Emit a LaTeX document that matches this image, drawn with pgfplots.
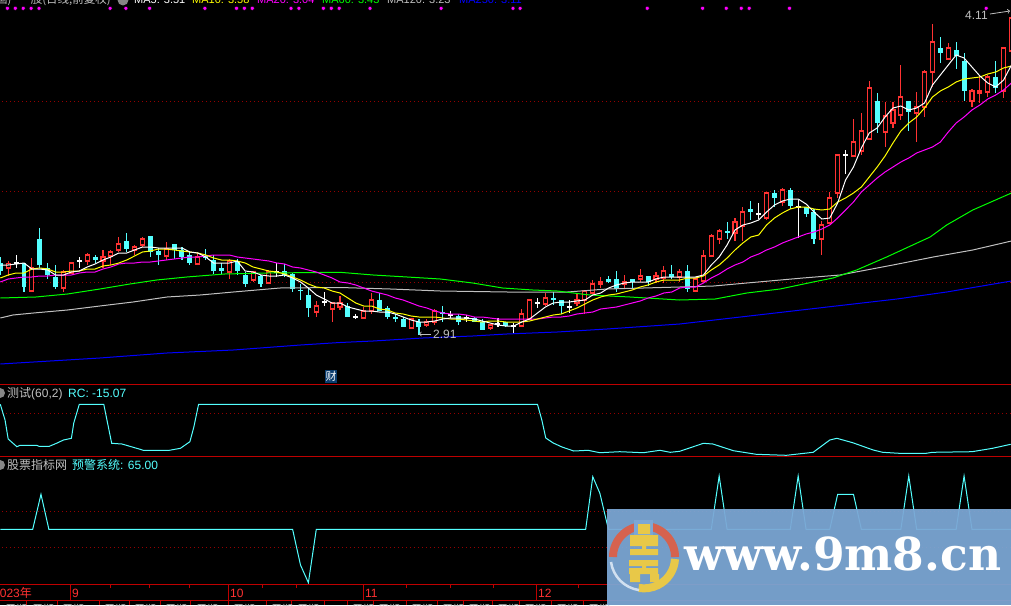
\documentclass[border=0pt]{standalone}
\usepackage{pgfplots}
\usepackage{pgfplotstable}
\usepackage{fontspec}
\pgfplotsset{compat=1.18}
\setmainfont{Liberation Sans}
\newfontfamily\cjk{Noto Sans CJK SC}
\newfontfamily\wm{DejaVu Serif}
\definecolor{kred}{RGB}{255,50,50}
\definecolor{kcyan}{RGB}{84,255,255}
\definecolor{sep}{RGB}{190,0,0}
\definecolor{grid}{RGB}{150,0,0}
\definecolor{tgray}{RGB}{192,192,192}
\definecolor{wmblue}{RGB}{124,167,213}
\definecolor{wmred}{RGB}{214,98,78}
\definecolor{wmyel}{RGB}{232,200,72}
\definecolor{badge}{RGB}{10,60,110}
\definecolor{mag}{RGB}{255,0,255}
\definecolor{yel}{RGB}{255,255,0}
\definecolor{grn}{RGB}{0,255,0}
\definecolor{blu}{RGB}{0,0,255}
% candle helpers: index, high, body top, body bottom, low
\newcommand\R[5]{%
 \pgfmathsetmacro\xa{#1-0.253}\pgfmathsetmacro\xb{#1+0.253}%
 \addplot[kred,line width=1.1pt] coordinates {(#1,#2)(#1,#3)};
 \addplot[kred,line width=1.1pt] coordinates {(#1,#4)(#1,#5)};
 \addplot[draw=kred,fill=black,line width=1.1pt] coordinates {(\xa,#3)(\xb,#3)(\xb,#4)(\xa,#4)} -- cycle;
}
\newcommand\C[5]{%
 \pgfmathsetmacro\xa{#1-0.316}\pgfmathsetmacro\xb{#1+0.316}%
 \addplot[kcyan,line width=1.1pt] coordinates {(#1,#2)(#1,#5)};
 \addplot[draw=none,fill=kcyan] coordinates {(\xa,#3)(\xb,#3)(\xb,#4)(\xa,#4)} -- cycle;
}
\newcommand\W[4]{%
 \pgfmathsetmacro\xa{#1-0.316}\pgfmathsetmacro\xb{#1+0.316}%
 \addplot[white,line width=1.1pt] coordinates {(#1,#2)(#1,#4)};
 \addplot[white,line width=1.1pt] coordinates {(\xa,#3)(\xb,#3)};
}
\pgfplotstableread{
i ma5 ma10 ma20
0 265 278 282
1 265 275 279
2 264 273 278
3 263 273 277
4 269 269 277
5 269 268 276
6 270 269 276
7 275 272 275
8 275 272 275
9 272 271 275
10 271 271 273
11 267 269 272
12 264 269 272
13 260 266 269
14 257 265 267
15 253 263 264
16 253 260 263
17 250 256 263
18 247 252 262
19 247 251 262
20 248 249 261
21 248 249 260
22 248 250 259
23 248 251 258
24 252 252 257
25 253 253 257
26 257 255 256
27 263 258 255
28 263 260 255
29 263 260 255
30 261 261 257
31 271 263 258
32 272 267 259
33 275 269 260
34 276 271 261
35 276 272 263
36 275 274 264
37 278 277 267
38 282 280 268
39 288 284 270
40 295 287 272
41 299 288 275
42 303 291 278
43 303 293 282
44 307 298 283
45 309 303 285
46 311 306 288
47 311 306 291
48 312 309 293
49 312 310 295
50 314 313 298
51 317 314 300
52 320 316 303
53 322 317 306
54 322 317 308
55 321 317 311
56 319 318 313
57 318 319 314
58 318 319 314
59 318 320 315
60 319 321 317
61 321 322 317
62 323 321 318
63 325 321 319
64 326 322 319
65 326 322 319
66 322 322 319
67 319 321 319
68 313 319 319
69 307 317 318
70 303 315 317
71 302 314 317
72 302 311 316
73 301 308 314
74 300 304 313
75 295 300 312
76 293 297 309
77 288 295 308
78 285 294 307
79 283 292 305
80 282 290 303
81 282 287 301
82 282 285 298
83 279 282 296
84 277 280 293
85 277 280 292
86 277 280 288
87 277 278 287
88 277 278 287
89 275 276 283
90 265 270 278
91 257 265 274
92 245 258 269
93 230 250 265
94 225 243 262
95 223 237 257
96 220 235 254
97 212 225 250
98 205 218 247
99 201 213 243
100 199 209 240
101 199 207 237
102 204 207 234
103 212 209 232
104 219 210 229
105 218 209 225
106 203 202 218
107 180 198 210
108 167 193 202
109 148 187 192
110 133 177 185
111 128 167 178
112 117 156 172
113 108 143 167
114 106 131 162
115 110 123 158
116 108 117 153
117 103 108 150
118 85 97 147
119 75 91 142
120 65 87 132
121 55 82 123
122 58 79 117
123 67 78 110
124 76 77 105
125 83 74 99
126 87 72 95
127 80 68 90
128 65 66 83
}\malines
\begin{document}
\begin{tikzpicture}[x=1pt,y=1pt]
\path[use as bounding box,clip] (0,0) rectangle (1011,605);
\fill[black] (0,0) rectangle (1011,605);
\begin{scope}[shift={(0,605)},y=-1pt]
 \foreach \yy in {101,191,282,413.5,511,547}
  \draw[grid,line width=.8pt,dash pattern=on 1pt off 3pt] (2,\yy)--(1011,\yy);
\end{scope}
\begin{axis}[at={(0,0)},anchor=south west,scale only axis,width=1011pt,height=605pt,
 xmin=-0.038,xmax=127.94,ymin=0,ymax=605,y dir=reverse,axis lines=none,no markers,clip=true]
\R{1}{261}{263.3}{268}{276}
\C{0}{257}{263}{271}{275}
\W{2}{255}{263}{268}
\C{3}{263}{263}{287}{292}
\R{4}{258}{268}{291}{291}
\C{5}{228}{239}{265}{268}
\C{6}{263}{268}{275}{279}
\C{7}{265}{277}{287}{289}
\R{8}{270}{272}{288}{292}
\R{9}{263}{263}{273}{273}
\W{10}{257}{261}{268}
\R{11}{253}{255}{261}{265}
\C{12}{255}{257}{260}{263}
\R{13}{250}{257}{261}{268}
\R{14}{250}{252}{256}{265}
\R{15}{237}{244}{250}{252}
\C{16}{233}{241}{249}{252}
\R{17}{245}{247}{250}{255}
\R{18}{237}{239}{245}{247}
\C{19}{236}{236}{252}{257}
\C{20}{248}{251}{255}{265}
\R{21}{242}{249}{256}{260}
\C{22}{244}{244}{250}{259}
\C{23}{247}{250}{257}{260}
\C{24}{252}{255}{263}{265}
\R{25}{253}{257}{264}{265}
\C{26}{249}{256}{258}{260}
\C{27}{255}{260}{271}{274}
\C{28}{263}{268}{271}{274}
\R{29}{259}{261}{272}{279}
\C{30}{259}{261}{271}{275}
\C{31}{272}{275}{284}{287}
\R{32}{271}{272}{280}{282}
\C{33}{275}{276}{284}{287}
\R{34}{270}{272}{283}{283}
\W{35}{263}{272}{277}
\C{36}{264}{271}{275}{277}
\C{37}{273}{274}{289}{292}
\C{38}{284}{290}{291}{300}
\C{39}{288}{295}{308}{317}
\R{40}{301}{306}{312}{317}
\W{41}{292}{302}{306}
\R{42}{302}{303}{309}{322}
\R{43}{296}{303}{307}{310}
\C{44}{303}{306}{317}{317}
\W{45}{314}{317}{319}
\R{46}{307}{311}{318}{319}
\R{47}{293}{300}{311}{314}
\C{48}{293}{300}{311}{311}
\C{49}{306}{308}{317}{319}
\C{50}{314}{317}{319}{322}
\C{51}{317}{319}{327}{327}
\R{52}{318}{319}{328}{328}
\C{53}{319}{322}{327}{335}
\R{54}{319}{322}{325}{327}
\R{55}{309}{311}{322}{325}
\C{56}{306}{312}{314}{322}
\W{57}{311}{315}{318}
\C{58}{314}{316}{322}{325}
\W{59}{315}{318}{322}
\C{60}{317}{318}{322}{322}
\C{61}{319}{322}{330}{330}
\R{62}{324}{325}{328}{330}
\W{63}{318}{324}{327}
\C{64}{322}{322}{326}{327}
\W{65}{323}{326}{333}
\R{66}{309}{314}{326}{326}
\R{67}{299}{300}{319}{319}
\W{68}{298}{303}{308}
\R{69}{293}{298}{304}{306}
\C{70}{292}{298}{300}{305}
\C{71}{300}{300}{306}{314}
\W{72}{300}{307}{313}
\R{73}{293}{300}{303}{306}
\R{74}{290}{291}{300}{314}
\R{75}{280}{284}{293}{294}
\R{76}{277}{282}{284}{288}
\C{77}{276}{279}{282}{283}
\C{78}{271}{279}{289}{292}
\R{79}{275}{282}{284}{289}
\C{80}{279}{279}{282}{289}
\R{81}{269}{276}{279}{282}
\C{82}{276}{276}{282}{286}
\R{83}{272}{276}{279}{283}
\R{84}{266}{271}{278}{283}
\C{85}{265}{274}{277}{279}
\R{86}{269}{272}{277}{282}
\C{87}{265}{271}{289}{292}
\R{88}{278}{279}{291}{292}
\R{89}{250}{256}{281}{282}
\R{90}{234}{236}{256}{257}
\R{91}{229}{231}{239}{244}
\C{92}{222}{231}{233}{239}
\R{93}{218}{222}{233}{241}
\R{94}{207}{212}{226}{241}
\C{95}{201}{209}{212}{220}
\W{96}{203}{214}{219}
\R{97}{192}{193}{218}{220}
\C{98}{190}{193}{198}{207}
\R{99}{188}{190}{202}{206}
\C{100}{188}{190}{206}{209}
\W{101}{200}{207}{238}
\C{102}{207}{207}{214}{217}
\C{103}{209}{212}{239}{244}
\R{104}{221}{225}{239}{255}
\R{105}{192}{198}{223}{224}
\R{106}{154}{155}{193}{198}
\W{107}{150}{155}{174}
\R{108}{119}{142}{156}{157}
\R{109}{113}{131}{151}{155}
\R{110}{81}{88}{139}{140}
\C{111}{93}{101}{123}{133}
\R{112}{102}{116}{132}{147}
\R{113}{102}{110}{123}{128}
\R{114}{65}{97}{115}{120}
\C{115}{101}{101}{112}{131}
\R{116}{92}{107}{113}{142}
\R{117}{70}{72}{107}{117}
\R{118}{24}{42}{72}{87}
\C{119}{37}{48}{53}{63}
\R{120}{43}{48}{59}{60}
\C{121}{42}{50}{56}{69}
\C{122}{53}{61}{91}{101}
\R{123}{89}{91}{101}{107}
\R{124}{75}{91}{93}{103}
\R{125}{75}{77}{92}{97}
\C{126}{61}{77}{88}{93}
\R{127}{48}{48}{91}{98}
\R{128}{12}{18}{51}{52}
% long moving averages
\addplot[color=blu,line width=1pt] coordinates {(0,364)(4.2,362)(12.6,358)(21.1,353)(29.5,350)(38,345)(43,342.5)(47.2,341)(53.5,338)(59.8,336)(64.1,334)(70.5,332)(76.8,329)(86,324)(113.5,299)(119.8,292)(128,281)};
\addplot[color=tgray,line width=1pt] coordinates {(0,318)(1.6,315)(4.2,313)(8.5,310)(12.6,306)(16.8,302)(21.1,297)(25.3,295)(29.5,292)(35.4,288)(43,287.5)(49.4,289)(55.7,291)(64.2,292)(71.8,292)(76.8,289)(86,287)(90.3,286)(94.5,283)(101.6,278)(106.3,275)(113,265)(118.1,257)(123.1,250)(128,241)};
\addplot[color=grn,line width=1pt] coordinates {(0,298)(4.5,297)(8.5,294)(12.6,289)(16.4,284)(19.8,280)(23.6,277)(28.4,274)(33.8,273)(43,272.3)(47.2,275)(51.5,277)(55.7,279)(59.8,283)(63.6,288)(67.4,290)(70.5,291)(74.6,295)(79.7,297)(86,300)(90.5,299)(94.5,293)(98.7,289)(102.9,282)(105.4,278)(108.4,270)(112.2,257)(115.5,245)(117.7,237)(119.8,225)(123.1,210)(128,193)};
\addplot[color=mag,line width=1pt] table[x=i,y=ma20]{\malines};
\addplot[color=yel,line width=1pt] table[x=i,y=ma10]{\malines};
\addplot[color=white,line width=1pt] table[x=i,y=ma5]{\malines};
% RC panel
\addplot[color=kcyan,line width=1pt] coordinates {(0,404.3)(0.6,420)(1,439)(2.1,446.7)(2.5,445.3)(4.6,445.3)(4.9,446.3)(6.2,446.3)(7.2,443)(8,440)(9,438.3)(9.3,423)(10,404.3)(13.1,404.3)(13.5,420)(14.1,443.3)(15.4,444)(17.7,449.3)(18.1,450.3)(21.4,450.3)(22.8,448.3)(24,441.7)(24.5,427)(25.1,404.3)(68,404.3)(68.55,420)(69.05,438)(70,443)(71.1,447)(72.6,451)(74.4,450.3)(75.9,452.7)(78.4,451.7)(81.4,452.7)(83.5,450.3)(84.8,452.3)(86,451.3)(89,443.3)(90.2,444)(92.8,450.7)(95.7,454.3)(99.5,455.3)(102.9,452.3)(105,440)(105.9,438.3)(107.9,442.7)(110.5,450)(111.7,452.3)(113.8,453.3)(117.2,453.3)(118,452.3)(123,451.7)(125.6,448.3)(127.9,444.3)};
% warning panel
\addplot[color=kcyan,line width=1pt] coordinates {(0,529.3)(4.1,529.3)(5.15,494.3)(6.15,529.3)(37,529.3)(38,565)(39,582.7)(40,529.3)(74.1,529.3)(75,476.7)(75.9,493.3)(76.8,523.3)(77,529.3)(90,529.3)(91,476)(92,529.3)(100,529.3)(101,476)(102,529.3)(105,529.3)(106,494.3)(108,494.3)(109,529.3)(114,529.3)(115,476)(116,529.3)(121,529.3)(122,476)(123,529.3)(128,529.3)};
% signal dots
\addplot[only marks,mark=square*,mark size=2pt,draw=none,mark options={fill=mag,draw=none}] coordinates {(0.9,8.3)(1.9,8.3)(2.9,8.3)(3.9,8.3)(4.9,8.3)(13.9,8.3)(15.9,8.3)(18.9,8.3)(25.9,8.3)(29.9,8.3)(30.9,8.3)(31.9,8.3)(36.8,8.3)(37.8,8.3)(40.9,8.3)(41.9,8.3)(42.9,8.3)(46.8,8.3)(55.8,8.3)(64.9,8.3)(65.8,8.3)(81.9,8.3)(88.9,8.3)(91.9,8.3)(93.8,8.3)(94.8,8.3)(99.9,8.3)(124.8,8.3)};
\end{axis}
\begin{scope}[shift={(0,605)},y=-1pt]
 % panel rules
 \foreach \yy in {384.5,457,584.5,600.5}
  \draw[sep,line width=1pt] (0,\yy)--(1011,\yy);
 \foreach \xx in {70,228,363.7,536.7}
  \draw[sep,line width=1pt] (\xx,584.5)--(\xx,600.5);
 \foreach \xx in {110,149,189,262,296,406,450,493,578}
  \draw[sep,line width=1pt] (\xx,584.5)--(\xx,587.5);
 \foreach \xx in {26,57,99,129,160,190,228,266,291,324,347,373,406,437,463,492,519,551,583}
  \draw[sep,line width=1pt] (\xx,600.5)--(\xx,605);
 % top title, cut by the edge
 \fill[tgray!70!black] (123,0) circle (5.5);
 \node[anchor=base west,inner sep=0,tgray,font=\cjk\fontsize{11.5}{12}\selectfont] at (-4,4) {画)};
 \node[anchor=base east,inner sep=0,tgray,font=\cjk\fontsize{11.5}{12}\selectfont] at (111,4) {股(日线,前复权)};
 \foreach \tx/\tc/\ty in {134/white/MA5: 3.51,192/yel/MA10: 3.58,257/mag/MA20: 3.04,322/grn/MA60: 3.43,387/tgray/MA120: 3.23,459/blu/MA250: 3.11}
  \node[anchor=base west,inner sep=0,text=\tc,font=\fontsize{11}{12}\selectfont] at (\tx,3.2) {\ty};
 % price labels
 \node[anchor=base west,inner sep=0,tgray,font=\fontsize{12}{12}\selectfont] at (433,339) {2.91};
 \draw[tgray,line width=.8pt,->,>=to] (431,334)--(419,334);
 \node[anchor=base west,inner sep=0,tgray,font=\fontsize{12}{12}\selectfont] at (965,20) {4.11};
 \draw[tgray,line width=.8pt,->,>=to] (990,14)--(1010,11);
 % finance badge
 \fill[badge] (325,370) rectangle (337,383);
 \node[inner sep=0,white,font=\cjk\fontsize{11}{11}\selectfont] at (331,376.5) {财};
 % panel titles
 \fill[tgray!70!black] (0,393) circle (5);
 \node[anchor=base west,inner sep=0,tgray,font=\fontsize{12}{12}\selectfont] at (7,397.5) {{\cjk 测试}(60,2)};
 \node[anchor=base west,inner sep=0,kcyan,font=\fontsize{12}{12}\selectfont] at (68,397.5) {RC: -15.07};
 \fill[tgray!70!black] (0,465) circle (5);
 \node[anchor=base west,inner sep=0,tgray,font=\cjk\fontsize{12}{12}\selectfont] at (7,469.5) {股票指标网};
 \node[anchor=base west,inner sep=0,kcyan,font=\fontsize{12}{12}\selectfont] at (72,469.5) {{\cjk 预警系统}: 65.00};
 % dates
 \foreach \tx/\ty in {-7/2023{\cjk 年},72/9,230/10,365/11,538/12}
  \node[anchor=base west,inner sep=0,kred,font=\fontsize{12}{12}\selectfont] at (\tx,597) {\ty};
 % bottom strip text, cut by the edge
 \foreach \tx in {5,32,62,104,134,165,196,233,271,297,352,378,411,442,468,497,524,556,588}
  \node[anchor=base west,inner sep=0,tgray,font=\cjk\fontsize{11}{11}\selectfont] at (\tx,613) {周期};
 % watermark
 \fill[wmblue,opacity=.94] (607,509) rectangle (1011,605);
 \draw[wmred,line width=8pt] (613,557) arc[start angle=180,end angle=360,radius=31];
 \draw[wmyel,line width=8pt] (675,559) arc[start angle=3,end angle=100,radius=31];
 \draw[white!65!wmblue,line width=2.5pt] (611,562) arc[start angle=172,end angle=98,radius=33];
 \fill[wmblue] (634,520) rectangle (653,536);
 \fill[wmyel] (638,524) rectangle (650,534) (630,535) rectangle (658,546) (642,546) rectangle (646,550) (630,549) rectangle (658,555)
  (629,560) rectangle (658,566) (642,566) rectangle (646,568) (629,568) rectangle (658,574) (630,574) rectangle (640,582) (650,574) rectangle (659,582);
 \node[anchor=base west,inner sep=0,white,font=\wm\bfseries\fontsize{45.5}{46}\selectfont] at (684,570) {www.9m8.cn};
\end{scope}
\end{tikzpicture}
\end{document}
